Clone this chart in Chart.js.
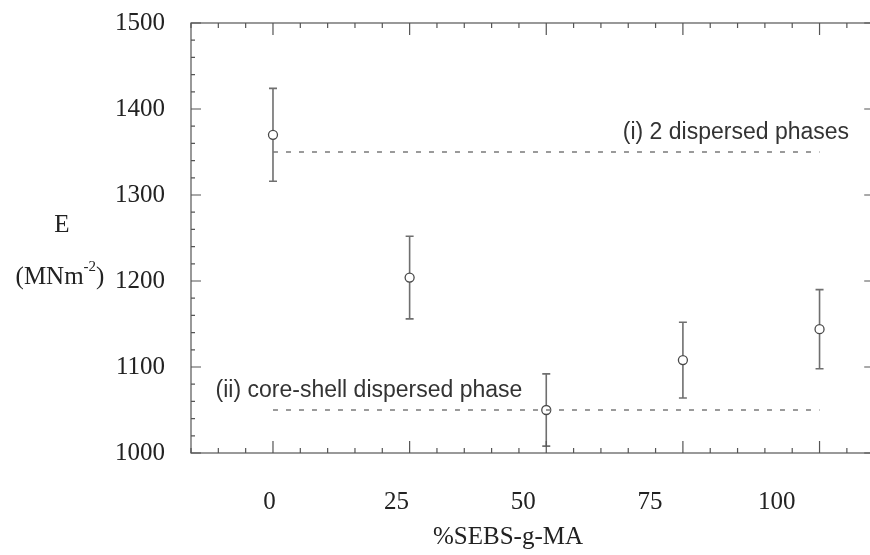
<!DOCTYPE html>
<html>
<head>
<meta charset="utf-8">
<script src="https://cdn.jsdelivr.net/npm/chart.js@4.4.0/dist/chart.umd.min.js"></script>
<style>
  html, body { margin: 0; padding: 0; background: #fff; overflow: hidden; }
  #wrap { width: 880px; height: 555px; }
</style>
</head>
<body>
<div id="wrap"><canvas id="modulusChart"></canvas></div>
<script>
// data
const sebsContent = [0, 25, 50, 75, 100];
const modulus = [1370, 1204, 1050, 1108, 1144];
const modulusErr = [54, 48, 42, 44, 46];

const refX = [0, 100];
const twoPhaseLine = [1350, 1350];
const coreShellLine = [1050, 1050];

const xTicks = [0, 25, 50, 75, 100];
const yTicks = [1000, 1100, 1200, 1300, 1400, 1500];

const twoPhaseLabel = '(i) 2 dispersed phases';
const coreShellLabel = '(ii) core-shell dispersed phase';

const serif = "'Liberation Serif', 'DejaVu Serif', serif";
const sans = "'Liberation Sans', Arial, sans-serif";

const toPoints = (xs, ys) => xs.map((x, i) => ({ x: x, y: ys[i] }));

// inward ticks on all four sides, plus the frame
const framePlugin = {
    id: 'frame',
    afterDraw(chart) {
        const { ctx, chartArea: a, scales } = chart;
        const xs = scales.x, ys = scales.y;
        ctx.save();
        ctx.strokeStyle = '#555';
        ctx.lineWidth = 1.2;
        ctx.strokeRect(a.left, a.top, a.right - a.left, a.bottom - a.top);
        ctx.beginPath();
        for (let v = xs.min; v <= xs.max; v += 5) {
            const px = xs.getPixelForValue(v);
            const len = v % 25 === 0 ? 12 : 5;
            ctx.moveTo(px, a.bottom); ctx.lineTo(px, a.bottom - len);
            ctx.moveTo(px, a.top); ctx.lineTo(px, a.top + len);
        }
        for (let v = ys.min; v <= ys.max; v += 20) {
            const py = ys.getPixelForValue(v);
            const len = v % 100 === 0 ? 10 : 4;
            ctx.moveTo(a.left, py); ctx.lineTo(a.left + len, py);
            ctx.moveTo(a.right, py); ctx.lineTo(a.right - len, py);
        }
        ctx.stroke();

        // axis titles
        ctx.fillStyle = '#222';
        ctx.textAlign = 'center';
        ctx.textBaseline = 'middle';
        ctx.font = '25px ' + serif;
        ctx.fillText('%SEBS-g-MA', 508, 537);
        ctx.fillText('E', 62, 225);
        const base = '(MNm', sup = '-2', close = ')';
        const wBase = ctx.measureText(base).width;
        const wClose = ctx.measureText(close).width;
        ctx.font = '15px ' + serif;
        const wSup = ctx.measureText(sup).width;
        let x0 = 60 - (wBase + wSup + wClose) / 2;
        ctx.textAlign = 'left';
        ctx.font = '25px ' + serif;
        ctx.fillText(base, x0, 277);
        ctx.font = '15px ' + serif;
        ctx.fillText(sup, x0 + wBase, 267);
        ctx.font = '25px ' + serif;
        ctx.fillText(close, x0 + wBase + wSup, 277);
        ctx.restore();
    }
};

// error bars and the two line labels
const errorPlugin = {
    id: 'errorBars',
    beforeDatasetsDraw(chart) {
        const { ctx, scales } = chart;
        const xs = scales.x, ys = scales.y;
        ctx.save();
        ctx.strokeStyle = '#6f6f6f';
        ctx.lineWidth = 1.6;
        ctx.beginPath();
        sebsContent.forEach((x, i) => {
            const px = xs.getPixelForValue(x);
            const top = ys.getPixelForValue(modulus[i] + modulusErr[i]);
            const bot = ys.getPixelForValue(modulus[i] - modulusErr[i]);
            ctx.moveTo(px, top); ctx.lineTo(px, bot);
            ctx.moveTo(px - 4, top); ctx.lineTo(px + 4, top);
            ctx.moveTo(px - 4, bot); ctx.lineTo(px + 4, bot);
        });
        ctx.stroke();

        ctx.fillStyle = '#333';
        ctx.font = '23px ' + sans;
        ctx.textAlign = 'left';
        ctx.textBaseline = 'middle';
        ctx.fillText(twoPhaseLabel, xs.getPixelForValue(64), ys.getPixelForValue(1372));
        ctx.fillText(coreShellLabel, xs.getPixelForValue(-10.5), ys.getPixelForValue(1073));
        ctx.restore();
    }
};

new Chart(document.getElementById('modulusChart'), {
    type: 'scatter',
    data: {
        datasets: [
            {
                type: 'line',
                data: toPoints(refX, twoPhaseLine),
                borderColor: '#7a7a7a',
                borderWidth: 1.6,
                borderDash: [5, 8],
                pointRadius: 0
            },
            {
                type: 'line',
                data: toPoints(refX, coreShellLine),
                borderColor: '#7a7a7a',
                borderWidth: 1.6,
                borderDash: [5, 8],
                pointRadius: 0
            },
            {
                data: toPoints(sebsContent, modulus),
                pointStyle: 'circle',
                pointRadius: 4.5,
                pointBorderWidth: 1.3,
                pointBorderColor: '#4a4a4a',
                pointBackgroundColor: '#fff'
            }
        ]
    },
    options: {
        responsive: true,
        maintainAspectRatio: false,
        animation: false,
        layout: { padding: { top: 23, right: 3, left: 0, bottom: 0 } },
        plugins: { legend: { display: false }, tooltip: { enabled: false } },
        scales: {
            x: {
                type: 'linear',
                min: -15,
                max: 110,
                afterFit: s => { s.height = 0; s.paddingLeft = 0; s.paddingRight = 0; },
                grid: { display: false },
                border: { display: false },
                ticks: { display: false }
            },
            // tick labels in the scan sit slightly left of their ticks, drifting further along the axis
            xLabels: {
                type: 'linear',
                position: 'bottom',
                min: -15.5,
                max: 119.2,
                afterBuildTicks: s => { s.ticks = xTicks.map(v => ({ value: v })); },
                afterFit: s => { s.height = 102; s.paddingLeft = 0; s.paddingRight = 0; },
                grid: { display: false },
                border: { display: false },
                ticks: { color: '#222', font: { family: serif, size: 25 }, padding: 26, maxRotation: 0,
                         callback: v => String(v) }
            },
            y: {
                min: 1000,
                max: 1500,
                afterBuildTicks: s => { s.ticks = yTicks.map(v => ({ value: v })); },
                afterFit: s => { s.width = 191; s.paddingTop = 0; s.paddingBottom = 0; },
                grid: { display: false },
                border: { display: false },
                ticks: { color: '#222', font: { family: serif, size: 25 }, padding: 18,
                         callback: v => String(v) }
            }
        }
    },
    plugins: [framePlugin, errorPlugin]
});
</script>
</body>
</html>
